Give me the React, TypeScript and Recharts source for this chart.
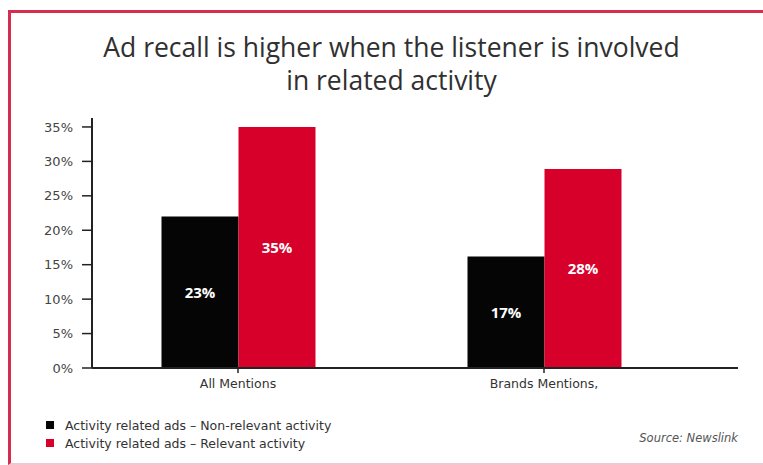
import { BarChart, Bar, XAxis, YAxis, LabelList } from "recharts"

// categories and series
const categories = ["All Mentions", "Brands Mentions,"]
const nonRelevant = [22, 16.2]
const relevant = [35, 28.9]
const nonRelevantLabels = ["23%", "17%"]
const relevantLabels = ["35%", "28%"]
const yTicks = [0, 5, 10, 15, 20, 25, 30, 35]

const seriesNames = [
  "Activity related ads \u2013 Non-relevant activity",
  "Activity related ads \u2013 Relevant activity",
]

const BLACK = "#050505"
const RED = "#d7002a"
const FONT = "'Open Sans', 'Noto Sans', sans-serif"
const SMALL = "'DejaVu Sans', sans-serif"

const data = categories.map((name, i) => ({
  name,
  nonRelevant: nonRelevant[i],
  relevant: relevant[i],
  nonLabel: nonRelevantLabels[i],
  relLabel: relevantLabels[i],
}))

export default function App() {
  return (
    <div
      style={{
        position: "fixed",
        left: 0,
        top: 0,
        width: 763,
        height: 465,
        background: "#fff",
        overflow: "hidden",
        fontFamily: FONT,
      }}
    >
      {/* red frame, runs off the right edge */}
      <div
        style={{
          position: "absolute",
          left: 8,
          top: 10,
          width: 780,
          height: 450,
          borderTop: "3px solid #d82c4e",
          borderLeft: "3px solid #d82c4e",
          borderBottom: "2px solid #f3c7d0",
        }}
      />
      <div
        style={{
          position: "absolute",
          left: 0,
          top: 31,
          width: 783,
          textAlign: "center",
          fontSize: 26.5,
          lineHeight: "33px",
          color: "#303030",
        }}
      >
        Ad recall is higher when the listener is involved
        <br />
        in related activity
      </div>

      <div style={{ position: "absolute", left: 0, top: 0 }}>
        <BarChart
          width={763}
          height={465}
          data={data}
          margin={{ top: 118, right: 25, bottom: 67, left: 0 }}
          barCategoryGap="25%"
          barGap={0}
        >
          <XAxis
            dataKey="name"
            height={30}
            padding={{ left: -7, right: 41 }}
            axisLine={{ stroke: "#222", strokeWidth: 2 }}
            tickLine={{ stroke: "#222", strokeWidth: 1.5 }}
            tickSize={5}
            tickMargin={6}
            tick={{ fill: "#333", fontSize: 12.5, fontFamily: SMALL }}
          />
          <YAxis
            width={92}
            domain={[0, 36.3]}
            ticks={yTicks}
            interval={0}
            tickFormatter={(v) => `${v}%`}
            axisLine={{ stroke: "#222", strokeWidth: 2 }}
            tickLine={{ stroke: "#222", strokeWidth: 1.5 }}
            tickSize={10}
            tickMargin={9}
            tick={{ fill: "#444", fontSize: 13, fontFamily: SMALL }}
          />
          <Bar dataKey="nonRelevant" fill={BLACK} isAnimationActive={false}>
            <LabelList
              dataKey="nonLabel"
              position="center"
              fill="#fff"
              style={{ fontSize: 15, fontWeight: 700, fontFamily: FONT }}
            />
          </Bar>
          <Bar dataKey="relevant" fill={RED} isAnimationActive={false}>
            <LabelList
              dataKey="relLabel"
              position="center"
              fill="#fff"
              style={{ fontSize: 15, fontWeight: 700, fontFamily: FONT }}
            />
          </Bar>
        </BarChart>
      </div>

      {/* legend */}
      <div
        style={{
          position: "absolute",
          left: 46,
          top: 416,
          fontSize: 12.5,
          color: "#333",
          fontFamily: SMALL,
        }}
      >
        {seriesNames.map((s, i) => (
          <div key={s} style={{ display: "flex", alignItems: "center", height: 18 }}>
            <span
              style={{
                display: "inline-block",
                width: 8,
                height: 8,
                background: i === 0 ? BLACK : RED,
                marginRight: 11,
              }}
            />
            {s}
          </div>
        ))}
      </div>

      <div
        style={{
          position: "absolute",
          right: 25,
          top: 431,
          fontSize: 11.5,
          fontStyle: "italic",
          color: "#555",
          fontFamily: SMALL,
        }}
      >
        Source: Newslink
      </div>
    </div>
  )
}
